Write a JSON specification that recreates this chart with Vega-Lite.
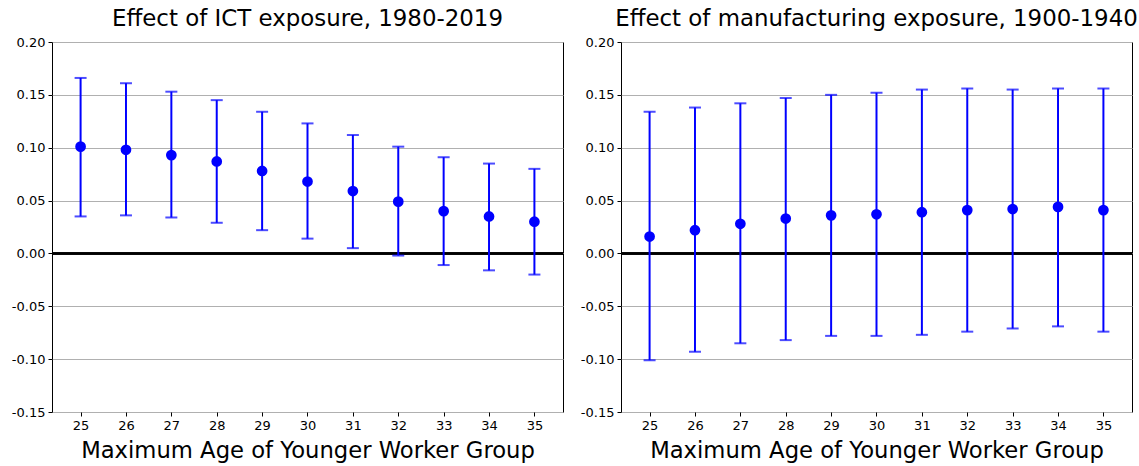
{
  "$schema": "https://vega.github.io/schema/vega-lite/v6.json",
  "autosize": {"type": "pad"},
  "padding": {"left": 10, "top": 7, "right": 0, "bottom": 0},
  "bounds": "flush",
  "spacing": 58,
  "background": "white",
  "config": {
    "font": "DejaVu Sans",
    "view": {"stroke": "black", "strokeWidth": 1},
    "axis": {
      "labelFont": "DejaVu Sans",
      "labelFontSize": 13,
      "labelColor": "black",
      "tickColor": "black",
      "tickSize": 4,
      "labelPadding": 3,
      "domain": false,
      "titleFont": "DejaVu Sans",
      "titleFontSize": 22.7,
      "titleFontWeight": "normal",
      "titleColor": "black"
    },
    "title": {"font": "DejaVu Sans", "fontSize": 22.9, "fontWeight": "normal", "color": "black", "offset": 5}
  },
  "datasets": {
    "est": [
      {"panel": "ICT", "age": 25, "est": 0.101, "lo": 0.035, "hi": 0.166},
      {"panel": "ICT", "age": 26, "est": 0.098, "lo": 0.036, "hi": 0.161},
      {"panel": "ICT", "age": 27, "est": 0.093, "lo": 0.034, "hi": 0.153},
      {"panel": "ICT", "age": 28, "est": 0.087, "lo": 0.029, "hi": 0.145},
      {"panel": "ICT", "age": 29, "est": 0.078, "lo": 0.022, "hi": 0.134},
      {"panel": "ICT", "age": 30, "est": 0.068, "lo": 0.014, "hi": 0.123},
      {"panel": "ICT", "age": 31, "est": 0.059, "lo": 0.005, "hi": 0.112},
      {"panel": "ICT", "age": 32, "est": 0.049, "lo": -0.002, "hi": 0.101},
      {"panel": "ICT", "age": 33, "est": 0.040, "lo": -0.011, "hi": 0.091},
      {"panel": "ICT", "age": 34, "est": 0.035, "lo": -0.016, "hi": 0.085},
      {"panel": "ICT", "age": 35, "est": 0.030, "lo": -0.020, "hi": 0.080},
      {"panel": "MFG", "age": 25, "est": 0.016, "lo": -0.101, "hi": 0.134},
      {"panel": "MFG", "age": 26, "est": 0.022, "lo": -0.093, "hi": 0.138},
      {"panel": "MFG", "age": 27, "est": 0.028, "lo": -0.085, "hi": 0.142},
      {"panel": "MFG", "age": 28, "est": 0.033, "lo": -0.082, "hi": 0.147},
      {"panel": "MFG", "age": 29, "est": 0.036, "lo": -0.078, "hi": 0.150},
      {"panel": "MFG", "age": 30, "est": 0.037, "lo": -0.078, "hi": 0.152},
      {"panel": "MFG", "age": 31, "est": 0.039, "lo": -0.077, "hi": 0.155},
      {"panel": "MFG", "age": 32, "est": 0.041, "lo": -0.074, "hi": 0.156},
      {"panel": "MFG", "age": 33, "est": 0.042, "lo": -0.071, "hi": 0.155},
      {"panel": "MFG", "age": 34, "est": 0.044, "lo": -0.069, "hi": 0.156},
      {"panel": "MFG", "age": 35, "est": 0.041, "lo": -0.074, "hi": 0.156}
    ]
  },
  "hconcat": [
    {
      "title": "Effect of ICT exposure, 1980-2019",
      "width": 511,
      "height": 370,
      "data": {"name": "est"},
      "transform": [{"filter": "datum.panel === 'ICT'"}],
      "encoding": {
        "x": {"field": "age", "type": "quantitative", "scale": {"domain": [24.37, 35.63], "nice": false, "zero": false},
              "axis": {"values": [25,26,27,28,29,30,31,32,33,34,35], "grid": false, "title": "Maximum Age of Younger Worker Group", "titlePadding": 7}}
      },
      "layer": [
        {"mark": {"type": "rule", "color": "black", "strokeWidth": 1.6}, "encoding": {"y": {"datum": 0, "type": "quantitative"}, "x": null}},
        {"mark": {"type": "rule", "color": "#0000ff", "strokeWidth": 2},
         "encoding": {"y": {"field": "lo", "type": "quantitative", "scale": {"domain": [-0.15, 0.2], "nice": false, "zero": false},
           "axis": {"values": [-0.15,-0.1,-0.05,0,0.05,0.1,0.15,0.2], "labelExpr": "replace(format(datum.value, '.2f'), '\u2212', '-')", "grid": true, "gridColor": "#b0b0b0", "gridWidth": 1, "title": null}},
           "y2": {"field": "hi"}}},
        {"mark": {"type": "tick", "orient": "horizontal", "color": "#0000ff", "size": 12, "thickness": 2}, "encoding": {"y": {"field": "lo", "type": "quantitative"}}},
        {"mark": {"type": "tick", "orient": "horizontal", "color": "#0000ff", "size": 12, "thickness": 2}, "encoding": {"y": {"field": "hi", "type": "quantitative"}}},
        {"mark": {"type": "point", "filled": true, "color": "#0000ff", "opacity": 1, "size": 115}, "encoding": {"y": {"field": "est", "type": "quantitative"}}}
      ]
    },
    {
      "title": "Effect of manufacturing exposure, 1900-1940",
      "width": 511,
      "height": 370,
      "data": {"name": "est"},
      "transform": [{"filter": "datum.panel === 'MFG'"}],
      "encoding": {
        "x": {"field": "age", "type": "quantitative", "scale": {"domain": [24.37, 35.63], "nice": false, "zero": false},
              "axis": {"values": [25,26,27,28,29,30,31,32,33,34,35], "grid": false, "title": "Maximum Age of Younger Worker Group", "titlePadding": 7}}
      },
      "layer": [
        {"mark": {"type": "rule", "color": "black", "strokeWidth": 1.6}, "encoding": {"y": {"datum": 0, "type": "quantitative"}, "x": null}},
        {"mark": {"type": "rule", "color": "#0000ff", "strokeWidth": 2},
         "encoding": {"y": {"field": "lo", "type": "quantitative", "scale": {"domain": [-0.15, 0.2], "nice": false, "zero": false},
           "axis": {"values": [-0.15,-0.1,-0.05,0,0.05,0.1,0.15,0.2], "labelExpr": "replace(format(datum.value, '.2f'), '\u2212', '-')", "grid": true, "gridColor": "#b0b0b0", "gridWidth": 1, "title": null}},
           "y2": {"field": "hi"}}},
        {"mark": {"type": "tick", "orient": "horizontal", "color": "#0000ff", "size": 12, "thickness": 2}, "encoding": {"y": {"field": "lo", "type": "quantitative"}}},
        {"mark": {"type": "tick", "orient": "horizontal", "color": "#0000ff", "size": 12, "thickness": 2}, "encoding": {"y": {"field": "hi", "type": "quantitative"}}},
        {"mark": {"type": "point", "filled": true, "color": "#0000ff", "opacity": 1, "size": 115}, "encoding": {"y": {"field": "est", "type": "quantitative"}}}
      ]
    }
  ]
}
